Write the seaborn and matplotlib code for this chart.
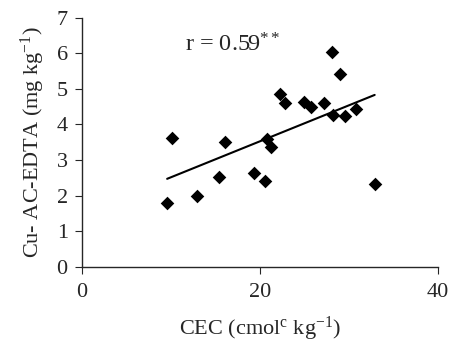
import numpy as np
import pandas as pd
import seaborn as sns
import matplotlib.pyplot as plt

# CEC vs Cu AC-EDTA values
cec = [10.1, 9.6, 13.0, 15.4, 16.1, 19.4, 20.6, 20.8, 21.3, 22.3,
       22.8, 25.0, 25.8, 27.2, 28.1, 28.2, 29.0, 29.6, 30.8, 32.9]
cu = [3.63, 1.78, 1.99, 2.53, 3.49, 2.62, 2.41, 3.58, 3.37, 4.85,
      4.61, 4.64, 4.48, 4.61, 6.03, 4.26, 5.42, 4.24, 4.43, 2.32]
x_ticks = [0, 20, 40]
y_ticks = [0, 1, 2, 3, 4, 5, 6, 7]
r_label = r'r = 0.59$^{**}$'

df = pd.DataFrame({'CEC': cec, 'Cu': cu})

sns.set_style("white")
sns.set_style("ticks")
plt.rcParams['font.family'] = 'serif'
plt.rcParams['font.serif'] = ['Liberation Serif', 'Times New Roman', 'DejaVu Serif']
plt.rcParams['mathtext.fontset'] = 'custom'
plt.rcParams['mathtext.rm'] = 'Liberation Serif'
plt.rcParams['mathtext.it'] = 'Liberation Serif:italic'

fig = plt.figure(figsize=(4.51, 3.45), dpi=100)
ax = fig.add_axes([0.181, 0.227, 0.79, 0.722])

sns.regplot(x='CEC', y='Cu', data=df, ci=None, ax=ax,
            marker='D', color='black',
            scatter_kws={'s': 48, 'linewidths': 0, 'alpha': 1},
            line_kws={'linewidth': 1.5})

ax.set_xlim(0, 40)
ax.set_ylim(0, 7)
ax.set_xticks(x_ticks)
ax.set_yticks(y_ticks)
ax.tick_params(direction='out', length=5, width=0.8, labelsize=16)
ax.tick_params(axis='x', pad=7)
ax.tick_params(axis='y', pad=5)
for side in ['left', 'bottom']:
    ax.spines[side].set_linewidth(1.0)
sns.despine(ax=ax)
ax.set_xlabel(r'CEC (cmol$^{\mathrm{c}}$ kg$^{\mathrm{-1}}$)', fontsize=16, labelpad=9)
ax.set_ylabel(r'Cu- AC-EDTA (mg kg$^{\mathrm{-1}}$)', fontsize=16, labelpad=7)
ax.text(11.6, 6.06, r_label, fontsize=17.5, ha='left', va='baseline')

fig.savefig('out.png', dpi=100)
